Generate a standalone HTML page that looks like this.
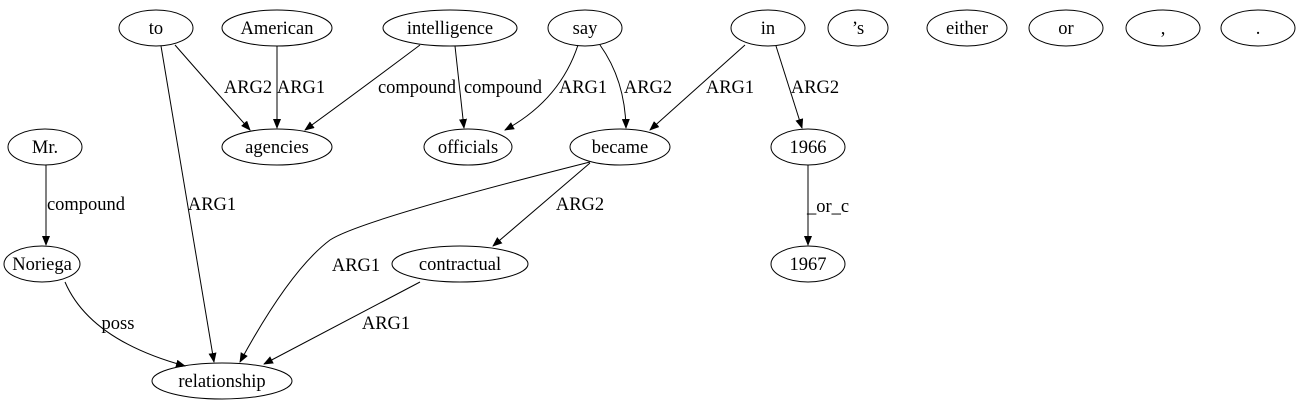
<!DOCTYPE html>
<html><head><meta charset="utf-8"><style>
html,body{margin:0;padding:0;background:#fff;}
svg{display:block;}
text{font-family:"Liberation Serif",serif;font-size:18.5px;fill:#000;}
</style></head><body>
<svg width="1300" height="411" viewBox="0 0 1300 411" xmlns="http://www.w3.org/2000/svg">
<defs><marker id="a" markerWidth="10" markerHeight="8" refX="9" refY="4" orient="auto" markerUnits="userSpaceOnUse"><path d="M0,0 L10,4 L0,8 z" fill="#000"/></marker></defs>
<g fill="none" stroke="#000" stroke-width="1">
<ellipse cx="156" cy="28" rx="37" ry="18"/>
<ellipse cx="277" cy="28" rx="55" ry="18"/>
<ellipse cx="450" cy="28" rx="67" ry="18"/>
<ellipse cx="585" cy="28" rx="37" ry="18"/>
<ellipse cx="768" cy="28" rx="37" ry="18"/>
<ellipse cx="858" cy="28" rx="30" ry="18"/>
<ellipse cx="967" cy="28" rx="40" ry="18"/>
<ellipse cx="1066" cy="28" rx="37" ry="18"/>
<ellipse cx="1163" cy="28" rx="37" ry="18"/>
<ellipse cx="1258" cy="28" rx="37" ry="18"/>
<ellipse cx="45" cy="147" rx="37" ry="18"/>
<ellipse cx="277" cy="147" rx="55" ry="18"/>
<ellipse cx="468" cy="147" rx="44" ry="18"/>
<ellipse cx="620" cy="147" rx="50" ry="18"/>
<ellipse cx="808" cy="147" rx="37" ry="18"/>
<ellipse cx="42" cy="264" rx="38" ry="18"/>
<ellipse cx="460" cy="264" rx="68" ry="18"/>
<ellipse cx="808" cy="264" rx="37" ry="18"/>
<ellipse cx="222" cy="381" rx="70" ry="18"/>
<g marker-end="url(#a)">
<path d="M175,45 Q210,85 250,130"/>
<path d="M277,46 L277,128"/>
<path d="M420,45 Q360,90 305,130"/>
<path d="M455,46 L464,128"/>
<path d="M578,45 Q560,100 505,130"/>
<path d="M600,45 Q625,80 626,128"/>
<path d="M745,45 L650,130"/>
<path d="M776,46 L802,128"/>
<path d="M808,165 L808,245"/>
<path d="M46,165 L46,245"/>
<path d="M161,46 L214,362"/>
<path d="M590,162 Q360,220 330,240 Q290,270 240,362"/>
<path d="M590,163 L493,246"/>
<path d="M420,282 L264,364"/>
<path d="M65,282 Q90,340 185,366"/>
</g></g>
<g text-anchor="middle">
<text x="156" y="34">to</text>
<text x="277" y="34">American</text>
<text x="450" y="34">intelligence</text>
<text x="585" y="34">say</text>
<text x="768" y="34">in</text>
<text x="858" y="34">’s</text>
<text x="967" y="34">either</text>
<text x="1066" y="34">or</text>
<text x="1163" y="34">,</text>
<text x="1258" y="34">.</text>
<text x="45" y="153">Mr.</text>
<text x="277" y="153">agencies</text>
<text x="468" y="153">officials</text>
<text x="620" y="153">became</text>
<text x="808" y="153">1966</text>
<text x="42" y="270">Noriega</text>
<text x="460" y="270">contractual</text>
<text x="808" y="270">1967</text>
<text x="222" y="387">relationship</text>
<text x="248" y="93">ARG2</text>
<text x="301" y="93">ARG1</text>
<text x="417" y="93">compound</text>
<text x="503" y="93">compound</text>
<text x="583" y="93">ARG1</text>
<text x="648" y="93">ARG2</text>
<text x="730" y="93">ARG1</text>
<text x="815" y="93">ARG2</text>
<text x="828" y="212">_or_c</text>
<text x="86" y="210">compound</text>
<text x="212" y="210">ARG1</text>
<text x="580" y="210">ARG2</text>
<text x="356" y="271">ARG1</text>
<text x="386" y="329">ARG1</text>
<text x="118" y="329">poss</text>
</g>
</svg>
</body></html>
